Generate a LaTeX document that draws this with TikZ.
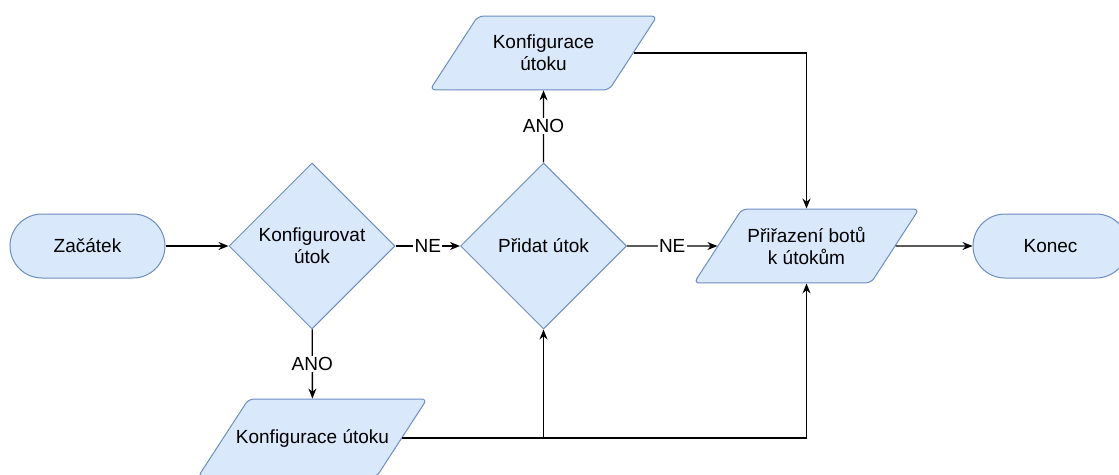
\documentclass[tikz,border=0pt]{standalone}
\usepackage{fontspec}
\setmainfont{Liberation Sans}
\usetikzlibrary{shapes.geometric,arrows.meta}
\definecolor{boxfill}{HTML}{DAE8FC}
\definecolor{boxline}{HTML}{6C8EBF}
\tikzset{
  base/.style={draw=boxline,fill=boxfill,line width=0.75pt,align=center,
    font=\fontsize{14.25}{16.8}\selectfont,inner sep=0pt},
  term/.style={base,rectangle,rounded corners=24pt,minimum width=116.25pt,minimum height=48pt},
  decision/.style={base,diamond,aspect=1,minimum size=124.5pt},
  io/.style={base,trapezium,trapezium left angle=57,trapezium right angle=123,
    trapezium stretches body,rounded corners=4pt,minimum width=#1},
  lbl/.style={fill=white,inner sep=1pt,font=\fontsize{14.25}{16.8}\selectfont}
}
\begin{document}
\begin{tikzpicture}[x=0.75pt,y=-0.75pt,>={Stealth[length=7.5pt,width=6pt]},line width=1pt]
\useasboundingbox (0,0) rectangle (1119,474);
\node[term] (start) at (87.5,246) {Začátek};
\node[decision] (konf) at (312,246) {Konfigurovat\\útok};
\node[decision] (pridat) at (543.5,246) {Přidat útok};
\node[io=170.25pt,inner ysep=14pt] (cfgtop) at (543.5,53) {Konfigurace\\útoku};
\node[io=170.25pt,inner ysep=22.5pt,inner xsep=-9.5pt] (cfgbot) at (312.5,438) {Konfigurace útoku};
\node[io=168.75pt,inner ysep=13.5pt] (assign) at (806.5,246) {Přiřazení botů\\k útokům};
\node[term] (konec) at (1050.5,246) {Konec};

\draw[->] (start) -- (konf);
\draw[->] (konf) -- node[lbl]{NE} (pridat);
\draw[->] (pridat) -- node[lbl]{NE} (assign);
\draw[->] (assign) -- (konec);
\draw[->] (konf) -- node[lbl]{ANO} (cfgbot);
\draw[->] (pridat) -- node[lbl]{ANO} (cfgtop);
\draw[->] (cfgtop.east) -| (assign.north);
\draw[->] (cfgbot.east) -| (pridat.south);
\draw[->] (cfgbot.east) -| (assign.south);
\end{tikzpicture}
\end{document}
